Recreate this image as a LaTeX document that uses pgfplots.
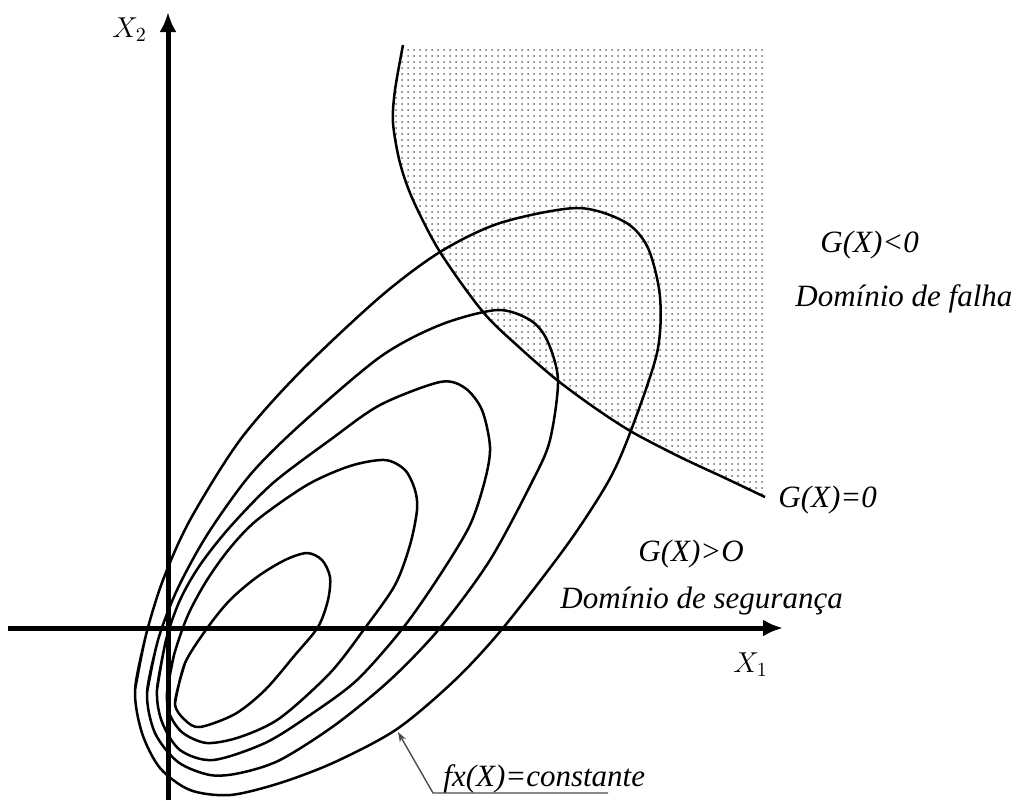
\documentclass[border=0pt]{standalone}
\usepackage{fontspec}
\setmainfont{Liberation Serif}
\usepackage{pgfplots}
\pgfplotsset{compat=1.18}
\usetikzlibrary{arrows.meta,patterns}
\tikzset{lbl/.style={inner sep=0pt, anchor=base west, font=\fontsize{15.5}{18}\selectfont\itshape}}
\begin{document}
\begin{tikzpicture}
\begin{axis}[
  scale only axis, width=510.5pt, height=400pt,
  xmin=0, xmax=1021, ymin=0, ymax=800, y dir=reverse,
  hide axis, clip=false,
]
% failure domain (dotted)
\addplot[draw=none, pattern=dots, pattern color=black!60] coordinates {
 (403,45) (398,67) (395,90) (393,123) (396,145) (400,163) (413,200) (428,232) (440,252) (460,282) (483,312) (520,348) (557,380) (595,408) (632,432) (680,457) (725,478) (765,497) (765,45)} -- cycle;
% limit state G(X)=0
\addplot[smooth, line width=1.25pt] coordinates {
 (403,45) (395,90) (393,123) (400,163) (413,200) (440,252) (483,312) (520,348) (557,380) (595,408) (632,432) (680,457) (725,478) (765,497)};
% contour A
\addplot[smooth, line width=1.25pt] coordinates {
 (135,690) (146,635) (163,580) (190,520) (240,440) (300,372) (380,297) (440,252) (500,223) (577,208) (625,222) (648,248) (660,297) (657,353) (630,433) (608,482) (567,545) (503,628) (455,680) (397,729) (335,762) (280,783) (230,795) (190,790) (160,768) (142,733) (135,690) (146,635)};
% contour B
\addplot[smooth, line width=1.25pt] coordinates {
 (147,693) (158,640) (177,590) (207,535) (250,475) (300,425) (380,357) (440,325) (497,310) (530,320) (547,340) (558,380) (550,440) (533,480) (490,560) (440,628) (390,680) (335,725) (280,760) (240,773) (210,775) (178,762) (155,733) (147,693) (158,640)};
% contour C
\addplot[smooth, line width=1.25pt] coordinates {
 (157,690) (166,640) (180,600) (200,565) (230,527) (273,483) (330,440) (380,405) (440,382) (465,388) (482,410) (490,447) (485,480) (470,525) (440,575) (403,628) (357,680) (310,715) (265,743) (213,760) (180,750) (162,722) (157,690) (166,640)};
% contour D
\addplot[smooth, line width=1.25pt] coordinates {
 (167,693) (174,655) (188,615) (207,580) (230,548) (257,520) (307,485) (350,466) (385,460) (405,470) (415,490) (417,510) (410,545) (395,585) (365,628) (330,673) (280,718) (240,737) (207,743) (183,733) (170,715) (167,693) (174,655)};
% contour E
\addplot[smooth, line width=1.25pt] coordinates {
 (175,703) (185,663) (208,627) (230,600) (257,577) (285,560) (307,553) (322,560) (330,577) (328,600) (318,627) (295,655) (265,690) (235,714) (200,727) (185,720) (175,703) (185,663)};
% axes
\addplot[line width=2.5pt, -{Latex[length=10pt,width=8.5pt]}] coordinates {(168,800) (168,12)};
\addplot[line width=2.5pt, -{Latex[length=10pt,width=8.5pt]}] coordinates {(8,628) (783,628)};
% pointer
\addplot[gray!60!black, line width=0.7pt, -{Stealth[length=5pt,width=3.5pt]}] coordinates {(608,793) (433,793) (398,732)};
% labels
\node[lbl] at (axis cs:820,252) {G(X)<0};
\node[lbl] at (axis cs:795,306) {Domínio de falha};
\node[lbl] at (axis cs:778,507) {G(X)=0};
\node[lbl] at (axis cs:638,561) {G(X)>O};
\node[lbl] at (axis cs:560,608) {Domínio de segurança};
\node[lbl] at (axis cs:443,786) {fx(X)=constante};
\node[inner sep=0pt, anchor=base west, font=\fontsize{14}{16}\selectfont] at (axis cs:112,37) {$X_2$};
\node[inner sep=0pt, anchor=base west, font=\fontsize{14}{16}\selectfont] at (axis cs:733,672) {$X_1$};
\end{axis}
\pgfresetboundingbox
\useasboundingbox (current axis.south west) rectangle (current axis.north east);
\end{tikzpicture}
\end{document}
